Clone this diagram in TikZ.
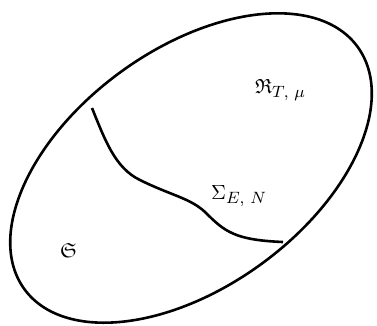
\documentclass[tikz,border=0pt]{standalone}
\usepackage{amssymb}
\usepackage{graphicx}
\newcommand{\lab}[1]{\scalebox{2.05}{#1}}
\tikzset{
  outline/.style={line width=2.6pt, line join=round},
  lbl/.style={inner sep=0pt, anchor=base west}
}
\begin{document}
\begin{tikzpicture}[x=1pt,y=-1pt]
\useasboundingbox (0,0) rectangle (377,325);
\draw[outline, rotate around={36:(191,168)}] (191,168) ellipse [x radius=206, y radius=119];
\coordinate (top) at (92,108);
\coordinate (bot) at (283,242);
\draw[outline] (top) .. controls (105,140) and (115,168) .. (140,180)
  .. controls (170,195) and (190,198) .. (205,212)
  .. controls (225,232) and (235,240) .. (bot);
\node[lbl] (R) at (255,93) {\lab{$\mathfrak{R}_{\mbox{\footnotesize$T,\,\mu$}}$}};
\node[lbl] (S) at (211,199) {\lab{$\Sigma_{\mbox{\footnotesize$E,\,N$}}$}};
\node[lbl] (G) at (60,257) {\lab{$\mathfrak{S}$}};
\end{tikzpicture}
\end{document}
